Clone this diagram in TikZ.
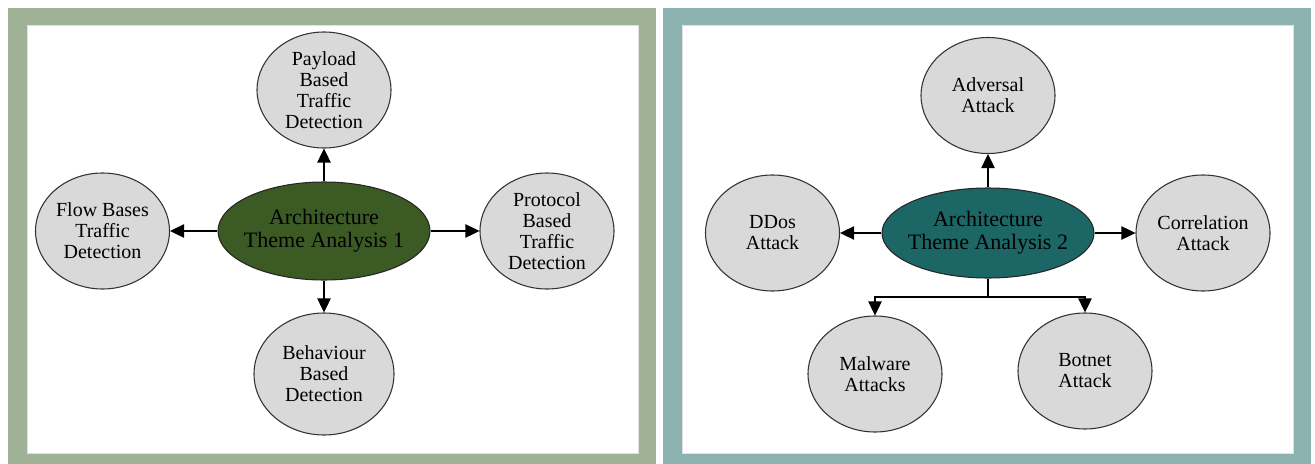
\documentclass[tikz,border=0pt]{standalone}
\usepackage{fontspec}
\setmainfont{Liberation Serif}
\usetikzlibrary{shapes.geometric,arrows.meta}
\definecolor{frameA}{HTML}{A0B296}
\definecolor{frameB}{HTML}{8DB3B1}
\definecolor{hubA}{HTML}{3B5A24}
\definecolor{hubB}{HTML}{1C6666}
\definecolor{leaf}{HTML}{D9D9D9}
\begin{document}
\begin{tikzpicture}[x=0.75pt,y=-0.75pt,
  leafnode/.style={ellipse,draw=black!80,line width=0.8pt,fill=leaf,inner sep=-12pt,
    minimum width=100.5pt,minimum height=87pt,align=center,
    font=\fontsize{15}{15.75}\selectfont},
  hubnode/.style={ellipse,draw=black!85,line width=0.8pt,inner sep=-12pt,
    minimum width=159pt,align=center,
    font=\fontsize{16.5}{16.9}\selectfont},
  arr/.style={line width=1pt,-{Triangle[length=10.5pt,width=10pt]}},
  panelbg/.style={draw=black!12,line width=0.5pt,fill=white}]
\useasboundingbox (0,0) rectangle (1315,464);
% panel frames
\fill[frameA] (8,8) rectangle (656,464);
\draw[panelbg] (27,25) rectangle (638,453);
\fill[frameB] (663,8) rectangle (1311,464);
\draw[panelbg] (682,25) rectangle (1293,453);

% left panel
\node[hubnode,fill=hubA,minimum height=73.5pt] (hubA) at (324,231) {Architecture\\Theme Analysis 1};
\node[leafnode] (pay) at (324,90) {Payload\\Based\\Traffic\\Detection};
\node[leafnode] (flow) at (102.5,231) {Flow Bases\\Traffic\\Detection};
\node[leafnode] (prot) at (547,231) {Protocol\\Based\\Traffic\\Detection};
\node[leafnode,minimum width=105pt,minimum height=91.5pt] (beh) at (324,374) {Behaviour\\Based\\Detection};
\draw[arr] (hubA.north) -- (pay.south);
\draw[arr] (hubA.west) -- (flow.east);
\draw[arr] (hubA.east) -- (prot.west);
\draw[arr] (hubA.south) -- (beh.north);

% right panel
\node[hubnode,fill=hubB,minimum height=67.5pt] (hubB) at (988,233) {Architecture\\Theme Analysis 2};
\node[leafnode] (adv) at (988,95.5) {Adversal\\Attack};
\node[leafnode] (ddos) at (772.5,233) {DDos\\Attack};
\node[leafnode] (corr) at (1203,233) {Correlation\\Attack};
\node[leafnode] (mal) at (875,374) {Malware\\Attacks};
\node[leafnode] (bot) at (1085,371) {Botnet\\Attack};
\coordinate (split) at (988,297);
\draw[arr] (hubB.north) -- (adv.south);
\draw[arr] (hubB.west) -- (ddos.east);
\draw[arr] (hubB.east) -- (corr.west);
\draw[line width=1pt] (hubB.south) -- (split);
\draw[arr] (split) -| (mal.north);
\draw[arr] (split) -| (bot.north);
\end{tikzpicture}
\end{document}
